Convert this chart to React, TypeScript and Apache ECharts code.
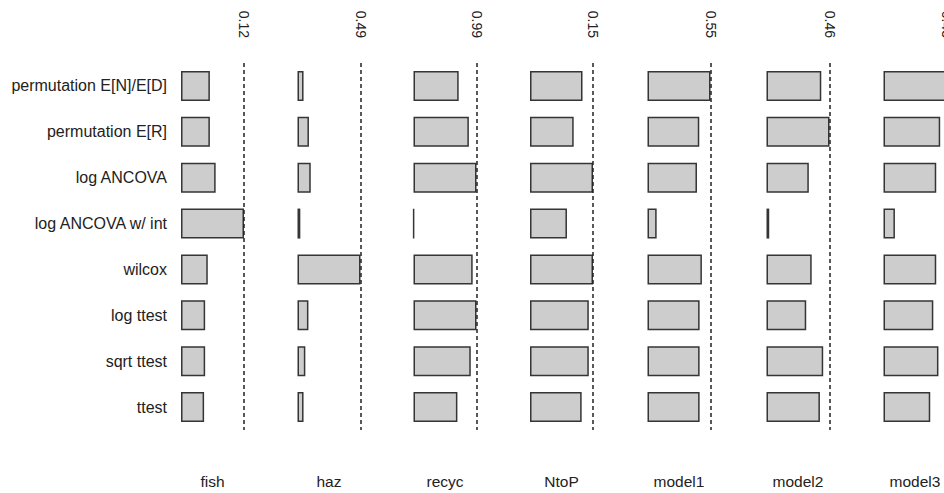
import React, { useEffect, useRef } from "react";
import * as echarts from "echarts";

// Methods compared (rows, top to bottom)
const methods = [
  "permutation E[N]/E[D]",
  "permutation E[R]",
  "log ANCOVA",
  "log ANCOVA w/ int",
  "wilcox",
  "log ttest",
  "sqrt ttest",
  "ttest",
];

// Data sets (panels, left to right)
const panels = ["fish", "haz", "recyc", "NtoP", "model1", "model2", "model3"];

// Largest value in each panel, marked by the dashed reference line
const panelMax = [0.12, 0.49, 0.99, 0.15, 0.55, 0.46, 0.43];

// Values per method, one array per data set
const fish = [0.055, 0.055, 0.066, 0.12, 0.051, 0.046, 0.046, 0.044];
const haz = [0.047, 0.089, 0.103, 0.022, 0.49, 0.085, 0.061, 0.047];
const recyc = [0.71, 0.87, 0.99, 0.004, 0.93, 0.99, 0.9, 0.69];
const ntop = [0.125, 0.104, 0.15, 0.088, 0.15, 0.14, 0.14, 0.123];
const model1 = [0.55, 0.452, 0.432, 0.08, 0.475, 0.455, 0.455, 0.455];
const model2 = [0.4, 0.46, 0.309, 0.02, 0.33, 0.29, 0.414, 0.39];
const model3 = [0.43, 0.387, 0.36, 0.078, 0.36, 0.34, 0.375, 0.319];

const panelValues = [fish, haz, recyc, ntop, model1, model2, model3];

// Panel placement
const panelLeft = [181, 297.5, 413.5, 530, 647.5, 766.5, 883.5];
const panelWidth = 63;
const panelTop = 63;
const panelHeight = 367;

const FONT = "'Liberation Sans', Arial, Helvetica, sans-serif";

function buildOption(): echarts.EChartsOption {
  const grid: any[] = [];
  const xAxis: any[] = [];
  const yAxis: any[] = [];
  const series: any[] = [];

  panels.forEach((name, i) => {
    const max = panelMax[i];
    grid.push({
      left: panelLeft[i],
      top: panelTop,
      width: panelWidth,
      height: panelHeight,
      containLabel: false,
      outerBoundsMode: "none",
    });
    // bottom axis: carries the data set name
    xAxis.push({
      type: "value",
      gridIndex: i,
      min: 0,
      max,
      position: "bottom",
      name,
      nameLocation: "middle",
      nameGap: 43,
      nameTextStyle: { fontFamily: FONT, fontSize: 15.5, color: "#222" },
      axisLine: { show: false },
      axisTick: { show: false },
      axisLabel: { show: false },
      splitLine: { show: false },
    });
    // top axis: shows the maximum value, rotated
    xAxis.push({
      type: "value",
      gridIndex: i,
      min: 0,
      max,
      interval: max,
      position: "top",
      axisLine: { show: false },
      axisTick: { show: false },
      splitLine: { show: false },
      axisLabel: {
        show: true,
        rotate: 90,
        margin: 25,
        fontFamily: FONT,
        fontSize: 14,
        color: "#222",
        formatter: (v: number) => (v === 0 ? "" : v.toFixed(2)),
      },
    });
    yAxis.push({
      type: "category",
      gridIndex: i,
      data: methods,
      inverse: true,
      axisLine: { show: false },
      axisTick: { show: false },
      splitLine: { show: false },
      axisLabel: {
        show: i === 0,
        margin: 14,
        fontFamily: FONT,
        fontSize: 16,
        color: "#222",
      },
    });
    series.push({
      type: "bar",
      xAxisIndex: i * 2,
      yAxisIndex: i,
      data: panelValues[i],
      barWidth: 30,
      itemStyle: {
        color: "#cdcdcd",
        borderColor: "#353535",
        borderWidth: 1.5,
      },
      markLine: {
        silent: true,
        symbol: "none",
        label: { show: false },
        lineStyle: { type: [4, 3], color: "#222", width: 1.5 },
        data: [{ xAxis: max }],
      },
    });
  });

  return {
    animation: false,
    backgroundColor: "#ffffff",
    textStyle: { fontFamily: FONT },
    grid,
    xAxis,
    yAxis,
    series,
  };
}

export default function App() {
  const ref = useRef<HTMLDivElement>(null);

  useEffect(() => {
    if (!ref.current) return;
    const chart = echarts.init(ref.current, null, { renderer: "svg" });
    chart.setOption(buildOption());
    return () => chart.dispose();
  }, []);

  return (
    <div
      ref={ref}
      style={{ position: "fixed", left: 0, top: 0, width: 944, height: 493, background: "#fff" }}
    />
  );
}
